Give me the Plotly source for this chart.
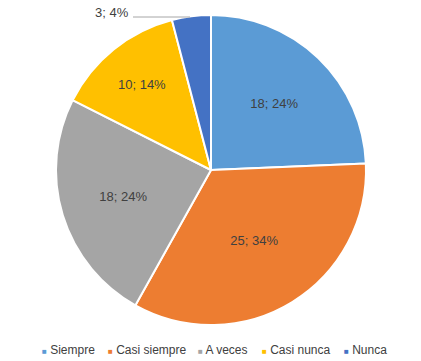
import plotly.graph_objects as go

labels = ["Siempre", "Casi siempre", "A veces", "Casi nunca", "Nunca"]
values = [18, 25, 18, 10, 3]
colors = ["#5B9BD5", "#ED7D31", "#A5A5A5", "#FFC000", "#4472C4"]

W, H = 421, 361
cx, cy, r = 211, 170, 155

total = sum(values)
texts = [f"{v}; {round(100*v/total)}%" for v in values]
textpos = ["inside"] * (len(values) - 1) + ["none"]
FONT = "Liberation Sans, Arial"

fig = go.Figure(go.Pie(
    labels=labels, values=values, sort=False, direction="clockwise", rotation=0,
    marker=dict(colors=colors, line=dict(color="white", width=2)),
    text=texts, textinfo="text", textposition=textpos,
    insidetextorientation="horizontal",
    textfont=dict(family=FONT, size=13, color="#404040"),
    domain=dict(x=[(cx - r) / W, (cx + r) / W], y=[1 - (cy + r) / H, 1 - (cy - r) / H]),
    hoverinfo="label+value+percent",
    showlegend=False,
))

fig.add_annotation(text=texts[-1], x=131 / W, y=1 - 13 / H, xref="paper", yref="paper",
                   xanchor="right", yanchor="middle", showarrow=False,
                   font=dict(family=FONT, size=13, color="#404040"))
fig.add_shape(type="line", xref="paper", yref="paper", x0=133 / W, x1=190 / W,
              y0=1 - 17 / H, y1=1 - 17 / H, line=dict(color="#A6A6A6", width=1))

# custom legend (small square markers like the reference)
leg_x = [40, 106, 196, 260, 342]
for lab, col, lx in zip(labels, colors, leg_x):
    fig.add_annotation(
        text=f"<span style='color:{col};font-size:8px'>■</span> {lab}",
        x=lx / W, y=1 - 350 / H, xref="paper", yref="paper",
        xanchor="left", yanchor="middle", showarrow=False,
        font=dict(family=FONT, size=12, color="#404040"))

fig.update_layout(
    width=W, height=H, margin=dict(l=0, r=0, t=0, b=0),
    paper_bgcolor="white", plot_bgcolor="white",
)

fig.write_html("out.html", config={"displayModeBar": False},
               post_script="document.body.style.margin='0';document.body.style.overflow='hidden';")
